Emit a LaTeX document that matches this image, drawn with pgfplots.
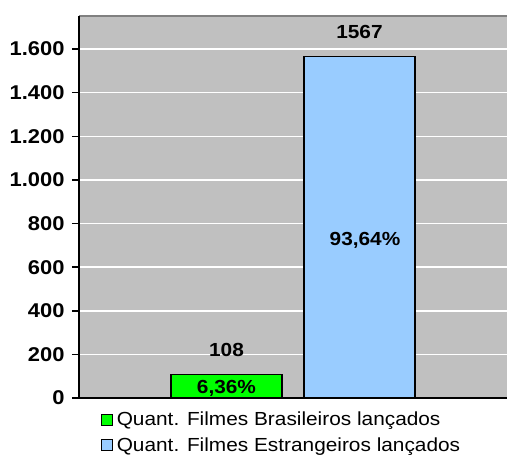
\documentclass[border=0pt]{standalone}
\usepackage{pgfplots}
\pgfplotsset{compat=1.18}
\usepackage{fontspec}
\setmainfont{Liberation Sans}[FakeStretch=1.1]
\definecolor{plotgray}{HTML}{C0C0C0}
\definecolor{bordergray}{HTML}{808080}
\definecolor{barblue}{HTML}{99CCFF}
\definecolor{bargreen}{HTML}{00FF00}
\begin{document}
\begin{tikzpicture}
\path[use as bounding box] (0,0) rectangle (507bp,459bp);
\begin{axis}[
  at={(79bp,61bp)}, anchor=south west,
  scale only axis,
  width=428bp, height=382bp,
  xmin=-1, xmax=1,
  ymin=0, ymax=1752,
  axis background/.style={fill=plotgray},
  axis line style={draw=none},
  ybar=22bp, bar width=111bp,
  xtick=\empty,
  ytick={0,200,...,1600},
  yticklabel style={font=\fontsize{20}{21}\selectfont\bfseries, xshift=-4bp},
  /pgf/number format/assume math mode=true,
  /pgf/number format/1000 sep={.},
  ymajorgrids,
  grid style={white, line width=1.5bp},
  major tick length=7bp,
  tick style={black, line width=1.5bp},
  ytick pos=left,
  tick align=outside,
  clip=false,
  nodes near coords,
  nodes near coords style={font=\fontsize{19}{20}\selectfont\bfseries, anchor=south, yshift=14bp},
  point meta=explicit symbolic,
  legend style={draw=none, fill=none, at={(22bp,-14bp)}, anchor=north west,
    font=\fontsize{19}{20}\selectfont, row sep=10bp, inner sep=0pt,
    nodes={inner sep=0pt}},
  legend cell align=left,
  legend image code/.code={\draw[#1, line width=1.2bp] (0bp,-5.5bp) rectangle (11bp,5.5bp); \path[draw=none,fill=none] (0bp,0bp) rectangle (15bp,0.1bp);},
]
\addplot[fill=bargreen, draw=black, line width=1.5bp] coordinates {(0,108) [108]};
\addplot[fill=barblue, draw=black, line width=1.5bp] coordinates {(0,1567) [1567]};
\legend{Quant. Filmes Brasileiros lançados, Quant. Filmes Estrangeiros lançados}
\draw[bordergray, line width=2bp] (rel axis cs:0,1) -- (rel axis cs:1,1);
\draw[black, line width=2bp] (rel axis cs:0,0) -- (rel axis cs:0,1);
\draw[black, line width=2bp] (rel axis cs:0,0) -- (rel axis cs:1,0);
\node[font=\fontsize{19}{20}\selectfont\bfseries] at (axis cs:0,46) [xshift=-66.5bp] {6,36\%};
\node[font=\fontsize{19}{20}\selectfont\bfseries] at (axis cs:0,725) [xshift=72bp] {93,64\%};
\end{axis}
\end{tikzpicture}
\end{document}
